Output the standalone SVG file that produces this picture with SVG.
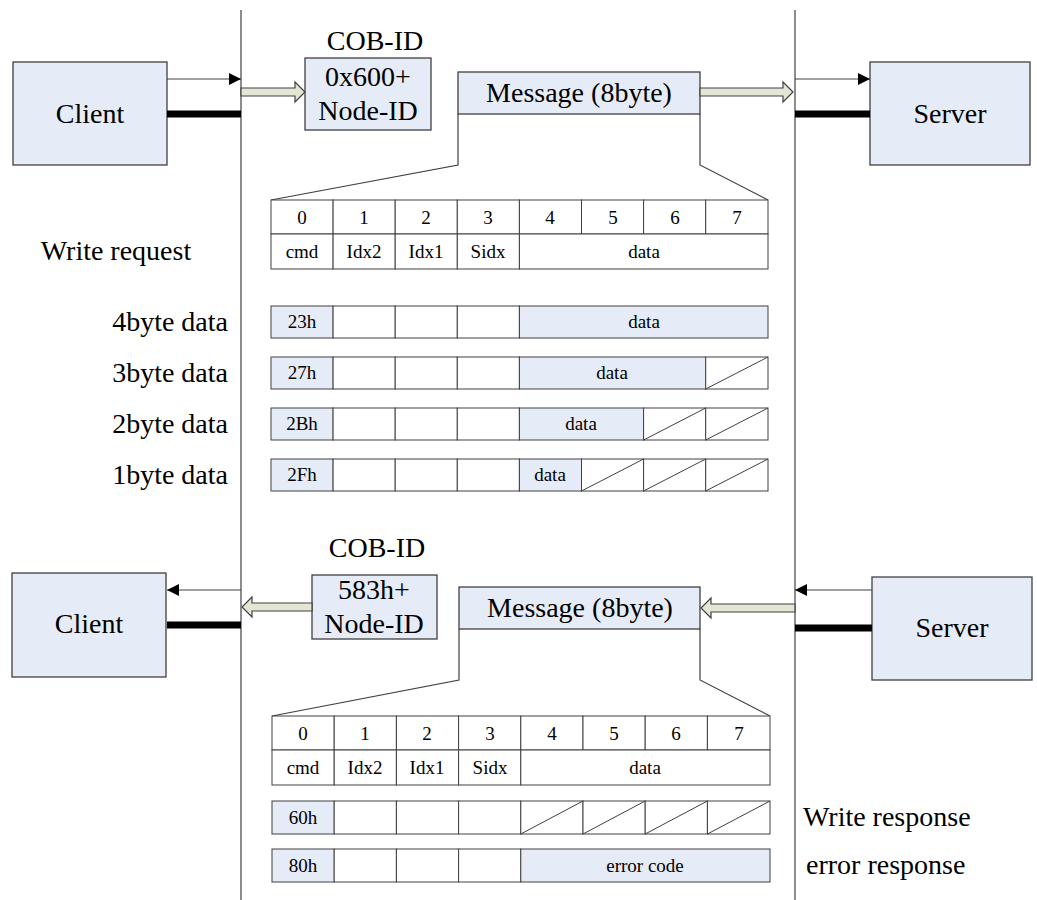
<svg xmlns="http://www.w3.org/2000/svg" width="1037" height="900" viewBox="0 0 1037 900">
<defs>
<style>
text{font-family:"Liberation Serif","Times New Roman",serif;fill:#000}
.big{font-size:28px}
.lbl{font-size:28px}
.cell{font-size:19px;text-anchor:middle}
.mid{text-anchor:middle}
.node{fill:#e6ecf7;stroke:#404040;stroke-width:1.3}
.c{fill:#fff;stroke:#404040;stroke-width:1}
.b{fill:#e6ecf7;stroke:#404040;stroke-width:1}
.ln{stroke:#404040;stroke-width:1.2;fill:none}
.thin{stroke:#404040;stroke-width:1.2;fill:none}
.thick{stroke:#000;stroke-width:7;fill:none}
.blk{fill:#e4e6d4;stroke:#404040;stroke-width:1.2}
.hatch{stroke:#404040;stroke-width:1;fill:none}
</style>
<marker id="ah" viewBox="0 0 10 10" refX="10" refY="5" markerWidth="12" markerHeight="12" markerUnits="userSpaceOnUse" orient="auto">
<path d="M0,0 L10,5 L0,10 Z" fill="#000"/>
</marker>
</defs>

<g id="bus-lines">
<line class="ln" x1="241" y1="10" x2="241" y2="900"/>
<line class="ln" x1="795" y1="10" x2="795" y2="900"/>
</g>

<g id="client-top"><rect class="node" x="13" y="62" width="154" height="103"/><text class="big mid" x="90" y="123">Client</text></g>
<g id="server-top"><rect class="node" x="870" y="62" width="160" height="103"/><text class="big mid" x="950" y="123">Server</text></g>
<g id="cobid-top"><text class="big mid" x="375" y="50">COB-ID</text><rect class="node" x="305" y="58" width="126" height="72"/><text class="big mid" x="368" y="86">0x600+</text><text class="big mid" x="368" y="120">Node-ID</text></g>
<g id="message-top"><rect class="node" x="458" y="72" width="242" height="42"/><text class="big mid" x="579" y="102">Message (8byte)</text></g>

<g id="client-bottom"><rect class="node" x="12" y="573" width="154" height="104"/><text class="big mid" x="89" y="633">Client</text></g>
<g id="server-bottom"><rect class="node" x="872" y="577" width="160" height="103"/><text class="big mid" x="952" y="637">Server</text></g>
<g id="cobid-bottom"><text class="big mid" x="377" y="557">COB-ID</text><rect class="node" x="312" y="575" width="125" height="64"/><text class="big mid" x="374" y="599">583h+</text><text class="big mid" x="374" y="633">Node-ID</text></g>
<g id="message-bottom"><rect class="node" x="459" y="587" width="241" height="42"/><text class="big mid" x="580" y="617">Message (8byte)</text></g>

<g id="connectors">
<line class="thin" x1="167" y1="79" x2="241" y2="79" marker-end="url(#ah)"/>
<line class="thick" x1="167" y1="114" x2="241" y2="114"/>
<line class="thin" x1="795" y1="79" x2="870" y2="79" marker-end="url(#ah)"/>
<line class="thick" x1="795" y1="114" x2="870" y2="114"/>
<path class="blk" d="M241,88 L295,88 L295,82 L305,92 L295,102 L295,96 L241,96 Z"/>
<path class="blk" d="M700,88 L783,88 L783,82 L793,92 L783,102 L783,96 L700,96 Z"/>
<polyline class="ln" points="458,114 458,165 271,200"/>
<polyline class="ln" points="700,114 700,165 768,200"/>

<line class="thin" x1="241" y1="590" x2="167" y2="590" marker-end="url(#ah)"/>
<line class="thick" x1="167" y1="625" x2="241" y2="625"/>
<line class="thin" x1="872" y1="590" x2="795" y2="590" marker-end="url(#ah)"/>
<line class="thick" x1="795" y1="628" x2="872" y2="628"/>
<path class="blk" d="M312,603 L252,603 L252,597 L242,607 L252,617 L252,611 L312,611 Z"/>
<path class="blk" d="M795,604 L711,604 L711,598 L701,608 L711,618 L711,612 L795,612 Z"/>
<polyline class="ln" points="459,629 459,680 272,716"/>
<polyline class="ln" points="700,629 700,680 770,716"/>
</g>

<g id="labels">
<text class="lbl" x="116" y="260" text-anchor="middle">Write request</text>
<text class="lbl" x="228" y="331" text-anchor="end">4byte data</text>
<text class="lbl" x="228" y="382" text-anchor="end">3byte data</text>
<text class="lbl" x="228" y="433" text-anchor="end">2byte data</text>
<text class="lbl" x="228" y="484" text-anchor="end">1byte data</text>
<text class="lbl" x="803" y="826">Write response</text>
<text class="lbl" x="806" y="874">error response</text>
</g>

<g id="table-request">
<rect class="c" x="271" y="200" width="62.1" height="34"/><text class="cell" x="302" y="224">0</text>
<rect class="c" x="333.1" y="200" width="62.1" height="34"/><text class="cell" x="364" y="224">1</text>
<rect class="c" x="395.2" y="200" width="62.1" height="34"/><text class="cell" x="426" y="224">2</text>
<rect class="c" x="457.3" y="200" width="62.1" height="34"/><text class="cell" x="488" y="224">3</text>
<rect class="c" x="519.4" y="200" width="62.1" height="34"/><text class="cell" x="550" y="224">4</text>
<rect class="c" x="581.5" y="200" width="62.1" height="34"/><text class="cell" x="613" y="224">5</text>
<rect class="c" x="643.6" y="200" width="62.1" height="34"/><text class="cell" x="675" y="224">6</text>
<rect class="c" x="705.7" y="200" width="62.3" height="34"/><text class="cell" x="737" y="224">7</text>
<rect class="c" x="271" y="234" width="62.1" height="35"/><text class="cell" x="302" y="258">cmd</text>
<rect class="c" x="333.1" y="234" width="62.1" height="35"/><text class="cell" x="364" y="258">Idx2</text>
<rect class="c" x="395.2" y="234" width="62.1" height="35"/><text class="cell" x="426" y="258">Idx1</text>
<rect class="c" x="457.3" y="234" width="62.1" height="35"/><text class="cell" x="488" y="258">Sidx</text>
<rect class="c" x="519.4" y="234" width="248.6" height="35"/><text class="cell" x="644" y="258">data</text>
</g>

<g id="row-23h">
<rect class="b" x="271" y="306" width="62.1" height="32"/><text class="cell" x="302" y="328">23h</text>
<rect class="c" x="333.1" y="306" width="62.1" height="32"/>
<rect class="c" x="395.2" y="306" width="62.1" height="32"/>
<rect class="c" x="457.3" y="306" width="62.1" height="32"/>
<rect class="b" x="519.4" y="306" width="248.6" height="32"/><text class="cell" x="644" y="328">data</text>
</g>
<g id="row-27h">
<rect class="b" x="271" y="357" width="62.1" height="32"/><text class="cell" x="302" y="379">27h</text>
<rect class="c" x="333.1" y="357" width="62.1" height="32"/>
<rect class="c" x="395.2" y="357" width="62.1" height="32"/>
<rect class="c" x="457.3" y="357" width="62.1" height="32"/>
<rect class="b" x="519.4" y="357" width="186.3" height="32"/><text class="cell" x="612" y="379">data</text>
<rect class="c" x="705.7" y="357" width="62.3" height="32"/><line class="hatch" x1="705.7" y1="389" x2="768" y2="357"/>
</g>
<g id="row-2Bh">
<rect class="b" x="271" y="408" width="62.1" height="32"/><text class="cell" x="302" y="430">2Bh</text>
<rect class="c" x="333.1" y="408" width="62.1" height="32"/>
<rect class="c" x="395.2" y="408" width="62.1" height="32"/>
<rect class="c" x="457.3" y="408" width="62.1" height="32"/>
<rect class="b" x="519.4" y="408" width="124.2" height="32"/><text class="cell" x="581" y="430">data</text>
<rect class="c" x="643.6" y="408" width="62.1" height="32"/><line class="hatch" x1="643.6" y1="440" x2="705.7" y2="408"/>
<rect class="c" x="705.7" y="408" width="62.3" height="32"/><line class="hatch" x1="705.7" y1="440" x2="768" y2="408"/>
</g>
<g id="row-2Fh">
<rect class="b" x="271" y="459" width="62.1" height="32"/><text class="cell" x="302" y="481">2Fh</text>
<rect class="c" x="333.1" y="459" width="62.1" height="32"/>
<rect class="c" x="395.2" y="459" width="62.1" height="32"/>
<rect class="c" x="457.3" y="459" width="62.1" height="32"/>
<rect class="b" x="519.4" y="459" width="62.1" height="32"/><text class="cell" x="550" y="481">data</text>
<rect class="c" x="581.5" y="459" width="62.1" height="32"/><line class="hatch" x1="581.5" y1="491" x2="643.6" y2="459"/>
<rect class="c" x="643.6" y="459" width="62.1" height="32"/><line class="hatch" x1="643.6" y1="491" x2="705.7" y2="459"/>
<rect class="c" x="705.7" y="459" width="62.3" height="32"/><line class="hatch" x1="705.7" y1="491" x2="768" y2="459"/>
</g>

<g id="table-response">
<rect class="c" x="272" y="716" width="62.2" height="34"/><text class="cell" x="303" y="740">0</text>
<rect class="c" x="334.2" y="716" width="62.2" height="34"/><text class="cell" x="365" y="740">1</text>
<rect class="c" x="396.4" y="716" width="62.2" height="34"/><text class="cell" x="427" y="740">2</text>
<rect class="c" x="458.6" y="716" width="62.2" height="34"/><text class="cell" x="490" y="740">3</text>
<rect class="c" x="520.8" y="716" width="62.2" height="34"/><text class="cell" x="552" y="740">4</text>
<rect class="c" x="583" y="716" width="62.2" height="34"/><text class="cell" x="614" y="740">5</text>
<rect class="c" x="645.2" y="716" width="62.2" height="34"/><text class="cell" x="676" y="740">6</text>
<rect class="c" x="707.4" y="716" width="62.6" height="34"/><text class="cell" x="739" y="740">7</text>
<rect class="c" x="272" y="750" width="62.2" height="35"/><text class="cell" x="303" y="774">cmd</text>
<rect class="c" x="334.2" y="750" width="62.2" height="35"/><text class="cell" x="365" y="774">Idx2</text>
<rect class="c" x="396.4" y="750" width="62.2" height="35"/><text class="cell" x="427" y="774">Idx1</text>
<rect class="c" x="458.6" y="750" width="62.2" height="35"/><text class="cell" x="490" y="774">Sidx</text>
<rect class="c" x="520.8" y="750" width="249.2" height="35"/><text class="cell" x="645" y="774">data</text>
</g>
<g id="row-60h">
<rect class="b" x="272" y="801" width="62.2" height="33"/><text class="cell" x="303" y="824">60h</text>
<rect class="c" x="334.2" y="801" width="62.2" height="33"/>
<rect class="c" x="396.4" y="801" width="62.2" height="33"/>
<rect class="c" x="458.6" y="801" width="62.2" height="33"/>
<rect class="c" x="520.8" y="801" width="62.2" height="33"/><line class="hatch" x1="520.8" y1="834" x2="583" y2="801"/>
<rect class="c" x="583" y="801" width="62.2" height="33"/><line class="hatch" x1="583" y1="834" x2="645.2" y2="801"/>
<rect class="c" x="645.2" y="801" width="62.2" height="33"/><line class="hatch" x1="645.2" y1="834" x2="707.4" y2="801"/>
<rect class="c" x="707.4" y="801" width="62.6" height="33"/><line class="hatch" x1="707.4" y1="834" x2="770" y2="801"/>
</g>
<g id="row-80h">
<rect class="b" x="272" y="849" width="62.2" height="33"/><text class="cell" x="303" y="872">80h</text>
<rect class="c" x="334.2" y="849" width="62.2" height="33"/>
<rect class="c" x="396.4" y="849" width="62.2" height="33"/>
<rect class="c" x="458.6" y="849" width="62.2" height="33"/>
<rect class="b" x="520.8" y="849" width="249.2" height="33"/><text class="cell" x="645" y="872">error code</text>
</g>
</svg>
